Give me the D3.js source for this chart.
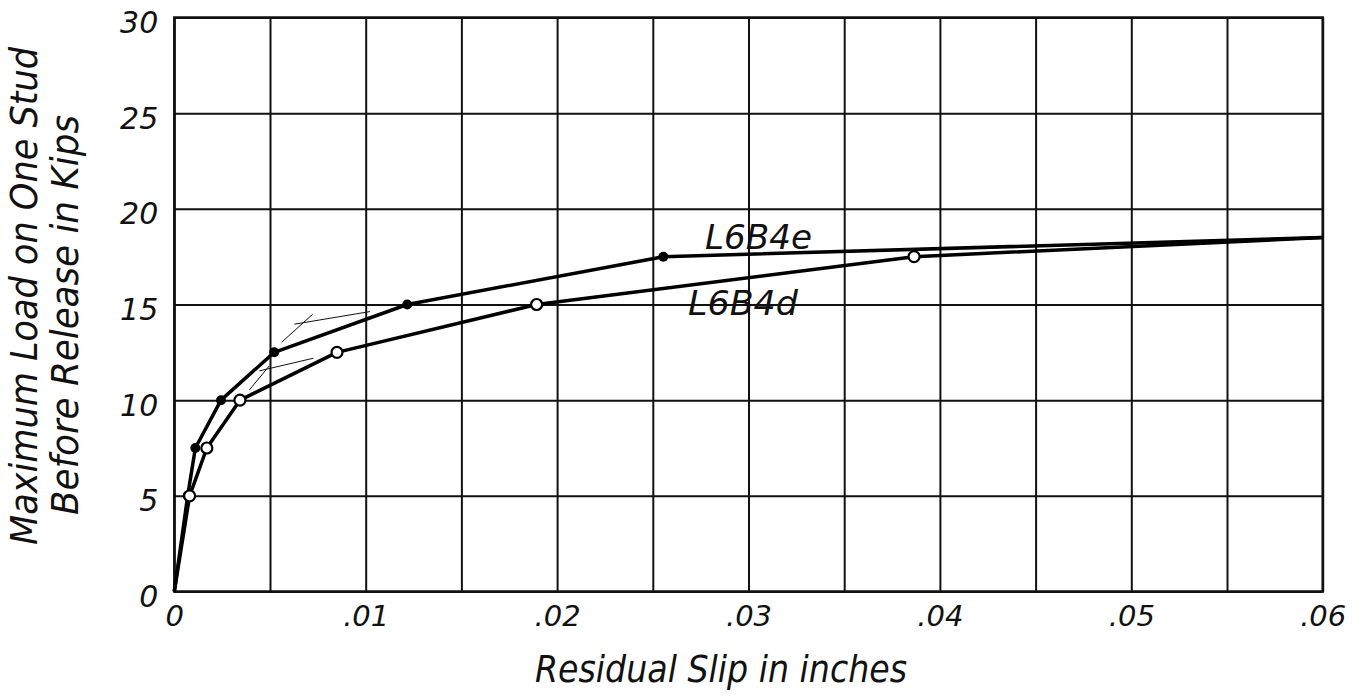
<!DOCTYPE html>
<html>
<head>
<meta charset="utf-8">
<script src="https://cdn.jsdelivr.net/npm/d3@7"></script>
<style>
  html, body { margin: 0; padding: 0; background: #fff; }
  svg { display: block; }
  text { font-family: "DejaVu Sans", "Liberation Sans", sans-serif; font-style: italic; fill: #111; }
</style>
</head>
<body>
<svg id="chart" width="1362" height="697"></svg>
<script>
// ---- data ----
const seriesNames = ["L6B4e", "L6B4d"];
// residual slip (in) and load (kips)
const slipE = [0, 0.0007, 0.0011, 0.00244, 0.00522, 0.01217, 0.02555, 0.06];
const loadE = [0, 5, 7.5, 10, 12.5, 15, 17.5, 18.5];
const markE = [false, true, true, true, true, true, true, false];
const slipD = [0, 0.0008, 0.0017, 0.00343, 0.0085, 0.01893, 0.03865, 0.06];
const loadD = [0, 5, 7.5, 10, 12.5, 15, 17.5, 18.5];
const markD = [false, true, true, true, true, true, true, false];
// thin construction (tangent) lines: [x1, y1, x2, y2]
const guideLines = [
  [0.00561, 13.03, 0.00723, 14.49],
  [0.00627, 13.97, 0.01022, 14.63],
  [0.00392, 10.53, 0.00496, 11.79],
  [0.00444, 11.53, 0.00726, 12.19]
];
const xGrid = [0, 0.005, 0.01, 0.015, 0.02, 0.025, 0.03, 0.035, 0.04, 0.045, 0.05, 0.055, 0.06];
const yGrid = [0, 5, 10, 15, 20, 25, 30];
const xTickValues = [0, 0.01, 0.02, 0.03, 0.04, 0.05, 0.06];
const xTickLabels = ["0", ".01", ".02", ".03", ".04", ".05", ".06"];
const yTickValues = [0, 5, 10, 15, 20, 25, 30];
const yTickLabels = ["0", "5", "10", "15", "20", "25", "30"];
const xTitle = "Residual Slip in inches";
const yTitle1 = "Maximum Load on One Stud";
const yTitle2 = "Before Release in Kips";

// ---- layout ----
const W = 1362, H = 697;
const margin = { left: 174.3, right: 39.3, top: 17.5, bottom: 105.5 };
const iw = W - margin.left - margin.right;
const ih = H - margin.top - margin.bottom;

const svg = d3.select("#chart");
const g = svg.append("g").attr("transform", `translate(${margin.left},${margin.top})`);

const x = d3.scaleLinear().domain([0, 0.06]).range([0, iw]);
const y = d3.scaleLinear().domain([0, 30]).range([ih, 0]);

// grid
g.append("g").attr("transform", `translate(0,${ih})`)
  .call(d3.axisBottom(x).tickValues(xGrid).tickSize(-ih).tickFormat(""))
  .call(a => a.select(".domain").remove())
  .call(a => a.selectAll("line").attr("stroke", "#111").attr("stroke-width", 2));
g.append("g")
  .call(d3.axisLeft(y).tickValues(yGrid).tickSize(-iw).tickFormat(""))
  .call(a => a.select(".domain").remove())
  .call(a => a.selectAll("line").attr("stroke", "#111").attr("stroke-width", 2));

// frame
g.append("rect").attr("x", 0).attr("y", 0).attr("width", iw).attr("height", ih)
  .attr("fill", "none").attr("stroke", "#111").attr("stroke-width", 2.5);

// tick labels
const xLab = g.append("g").attr("transform", `translate(0,${ih})`)
  .call(d3.axisBottom(x).tickValues(xTickValues).tickSize(0)
    .tickFormat((d, i) => xTickLabels[i]));
xLab.select(".domain").remove();
xLab.selectAll("text").attr("dy", 0).attr("y", 34)
  .style("font-size", "29px").style("font-family", null).attr("fill", "#111");

const yLab = g.append("g")
  .call(d3.axisLeft(y).tickValues(yTickValues).tickSize(0)
    .tickFormat((d, i) => yTickLabels[i]));
yLab.select(".domain").remove();
yLab.selectAll("text").attr("x", -16).attr("dy", "0.5em")
  .style("font-size", "30px").style("font-family", null).attr("fill", "#111");

// guide lines
g.append("g").selectAll("line").data(guideLines).join("line")
  .attr("x1", d => x(d[0])).attr("y1", d => y(d[1]))
  .attr("x2", d => x(d[2])).attr("y2", d => y(d[3]))
  .attr("stroke", "#111").attr("stroke-width", 1);

// series
const line = d3.line().x(d => x(d.s)).y(d => y(d.l));
const ptsE = slipE.map((s, i) => ({ s, l: loadE[i], m: markE[i] }));
const ptsD = slipD.map((s, i) => ({ s, l: loadD[i], m: markD[i] }));

g.append("path").datum(ptsD).attr("d", line)
  .attr("fill", "none").attr("stroke", "#000").attr("stroke-width", 3.5)
  .attr("stroke-linejoin", "round");
g.append("path").datum(ptsE).attr("d", line)
  .attr("fill", "none").attr("stroke", "#000").attr("stroke-width", 3.5)
  .attr("stroke-linejoin", "round");

g.append("g").selectAll("circle").data(ptsE.filter(d => d.m)).join("circle")
  .attr("cx", d => x(d.s)).attr("cy", d => y(d.l)).attr("r", 5)
  .attr("fill", "#000");
g.append("g").selectAll("circle").data(ptsD.filter(d => d.m)).join("circle")
  .attr("cx", d => x(d.s)).attr("cy", d => y(d.l)).attr("r", 5.5)
  .attr("fill", "#fff").attr("stroke", "#000").attr("stroke-width", 2.2);

// series labels
g.append("text").attr("x", x(0.02773)).attr("y", y(17.9))
  .attr("textLength", 107).attr("lengthAdjust", "spacingAndGlyphs")
  .style("font-size", "33px").text(seriesNames[0]);
g.append("text").attr("x", x(0.02684)).attr("y", y(14.45))
  .attr("textLength", 110).attr("lengthAdjust", "spacingAndGlyphs")
  .style("font-size", "33px").text(seriesNames[1]);

// axis titles
svg.append("text").attr("x", 535).attr("y", 682)
  .attr("textLength", 372).attr("lengthAdjust", "spacingAndGlyphs")
  .style("font-size", "38px").text(xTitle);

svg.append("text").attr("transform", "translate(37,296) rotate(-90)")
  .attr("text-anchor", "middle")
  .attr("textLength", 498).attr("lengthAdjust", "spacingAndGlyphs")
  .style("font-size", "37px").text(yTitle1);
svg.append("text").attr("transform", "translate(78,315) rotate(-90)")
  .attr("text-anchor", "middle")
  .attr("textLength", 400).attr("lengthAdjust", "spacingAndGlyphs")
  .style("font-size", "37px").text(yTitle2);
</script>
</body>
</html>
